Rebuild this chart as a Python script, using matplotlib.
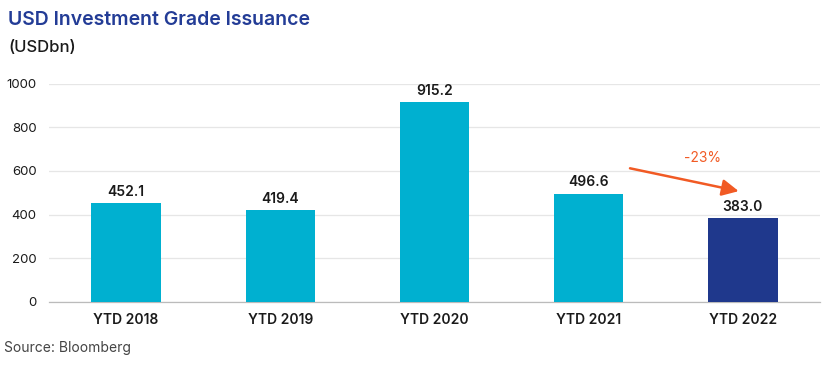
import matplotlib
matplotlib.use('Agg')
import matplotlib.pyplot as plt
import numpy as np

plt.rcParams['font.family'] = ['Inter', 'DejaVu Sans']

categories = ['YTD 2018', 'YTD 2019', 'YTD 2020', 'YTD 2021', 'YTD 2022']
issuance = [452.1, 419.4, 915.2, 496.6, 383.0]
yticks = [0, 200, 400, 600, 800, 1000]
change_label = '-23%'

LIGHT = '#00b0d0'
DARK = '#1f388c'
ORANGE = '#f15a24'

fig = plt.figure(figsize=(8.3, 3.69), dpi=100)
ax = fig.add_axes([0.059, 0.182, 0.929, 0.591])

x = np.arange(len(categories))
colors = [LIGHT] * (len(categories) - 1) + [DARK]
bars = ax.bar(x, issuance, width=0.45, color=colors, zorder=3)

for b, v in zip(bars, issuance):
    ax.annotate(f'{v:.1f}', xy=(b.get_x() + b.get_width() / 2, v),
                xytext=(0, 3), textcoords='offset points',
                ha='center', va='bottom', fontsize=10, fontweight='semibold',
                color='#1a1a1a')

# change arrow 2021 -> 2022
ax.annotate('', xy=(3.99, 505), xytext=(3.25, 615),
            arrowprops=dict(arrowstyle='-|>,head_length=1.0,head_width=0.5',
                            color=ORANGE, lw=1.8), zorder=4)
ax.text(3.74, 628, change_label, ha='center', va='bottom',
        fontsize=10, color=ORANGE)

ax.set_xlim(-0.5, 4.5)
ax.set_ylim(0, 1000)
ax.set_yticks(yticks)
ax.set_yticklabels([str(t) for t in yticks], fontsize=9.5, color='#1a1a1a')
ax.set_xticks(x)
ax.set_xticklabels(categories, fontsize=10, fontweight='semibold', color='#1a1a1a')
ax.tick_params(axis='both', length=0)
ax.tick_params(axis='y', pad=9)
ax.tick_params(axis='x', pad=8)

ax.grid(axis='y', color='#e6e6e6', lw=0.9, zorder=0)
for s in ['top', 'right', 'left']:
    ax.spines[s].set_visible(False)
ax.spines['bottom'].set_color('#bbbbbb')
ax.spines['bottom'].set_linewidth(0.9)

fig.text(0.01, 0.945, 'USD Investment Grade Issuance', fontsize=14,
         fontweight='semibold', color='#233c96', va='center')
fig.text(0.01, 0.87, '(USDbn)', fontsize=12, fontweight='medium',
         color='#1a1a1a', va='center')
fig.text(0.005, 0.058, 'Source: Bloomberg', fontsize=10, color='#444444', va='center')

fig.savefig('out.png', dpi=100)
